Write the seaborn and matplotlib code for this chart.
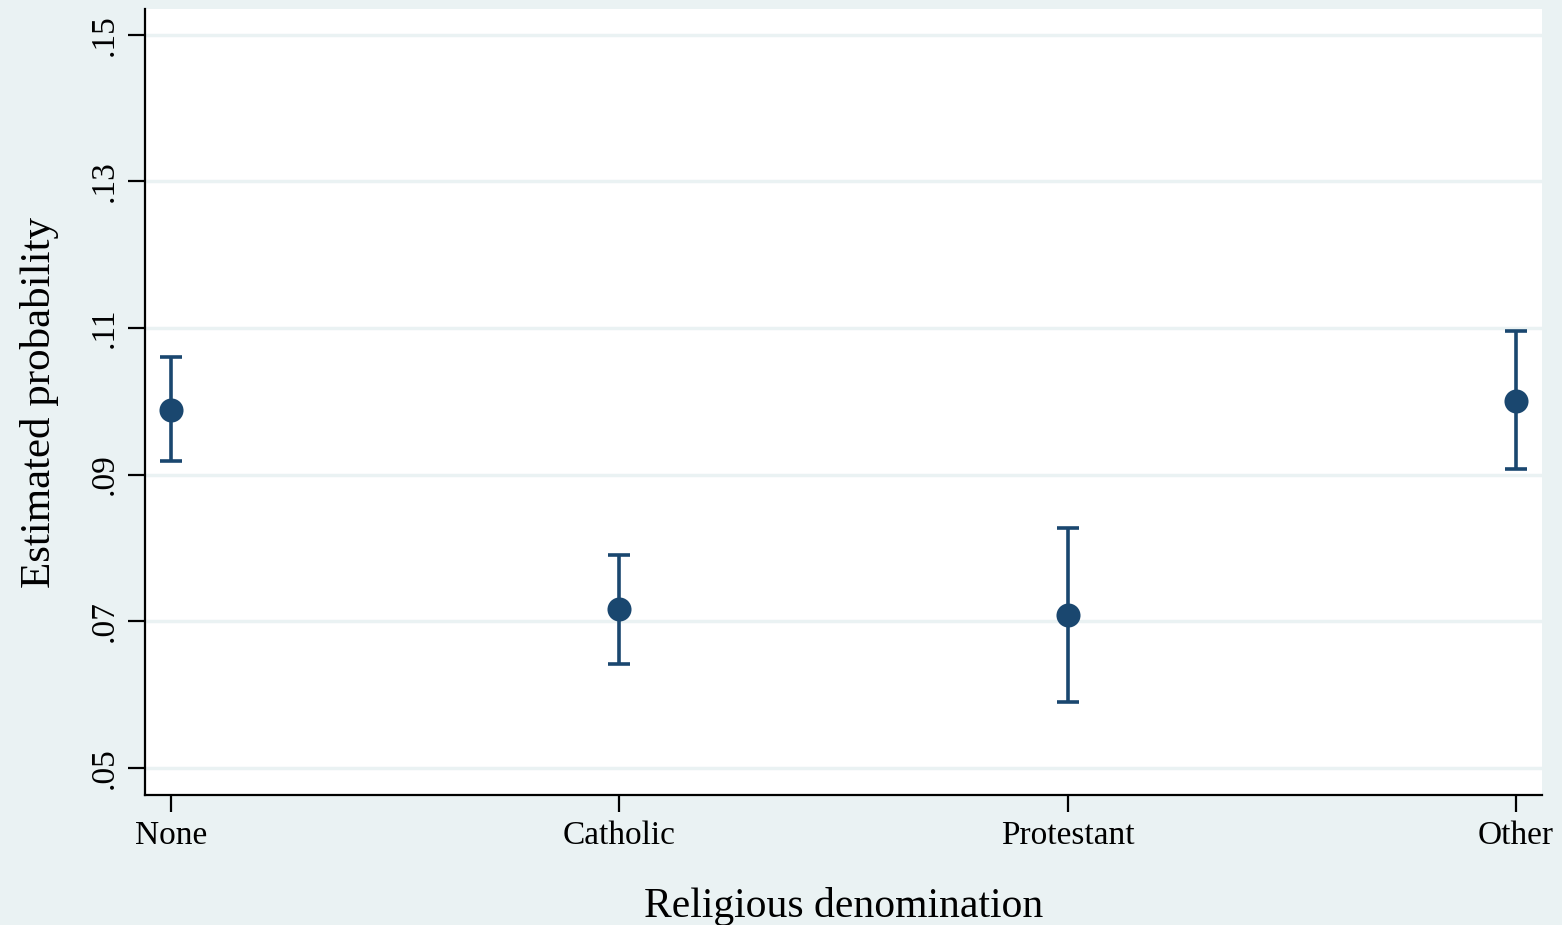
import pandas as pd
import matplotlib
matplotlib.use("Agg")
import matplotlib.pyplot as plt
import seaborn as sns

categories = ["None", "Catholic", "Protestant", "Other"]
estimate = [0.0988, 0.0716, 0.0709, 0.1001]
ci_low = [0.0919, 0.0641, 0.0590, 0.0908]
ci_high = [0.1061, 0.0791, 0.0827, 0.1096]
y_ticks = [0.05, 0.07, 0.09, 0.11, 0.13, 0.15]
y_tick_labels = [".05", ".07", ".09", ".11", ".13", ".15"]

df = pd.DataFrame({"religion": categories, "est": estimate,
                   "lo": ci_low, "hi": ci_high})

bg = "#EAF2F3"
navy = "#1A476F"

sns.set_style("white")
plt.rcParams["font.family"] = ["Liberation Serif", "DejaVu Serif"]
plt.rcParams["text.color"] = "black"
plt.rcParams["axes.labelcolor"] = "black"
plt.rcParams["xtick.color"] = "black"
plt.rcParams["ytick.color"] = "black"

fig = plt.figure(figsize=(15.62, 9.25), dpi=100, facecolor=bg)
ax = fig.add_axes([145 / 1562, 130 / 925, 1397 / 1562, 786 / 925])
ax.set_facecolor("white")

ax.errorbar(df["religion"], df["est"],
            yerr=[df["est"] - df["lo"], df["hi"] - df["est"]],
            fmt="none", ecolor=navy, elinewidth=2.6, capsize=8, capthick=2.6, zorder=3)
sns.scatterplot(data=df, x="religion", y="est", color=navy, s=300,
                edgecolor=navy, linewidth=0, zorder=4, ax=ax)

ax.set_xlim(-0.058, 3.058)
ax.set_ylim(0.0463, 0.1535)
ax.set_yticks(y_ticks)
ax.set_yticklabels(y_tick_labels, rotation=90, va="center")
ax.yaxis.grid(True, color=bg, linewidth=2.5)
ax.set_axisbelow(True)

for side in ["top", "right"]:
    ax.spines[side].set_visible(False)
for side in ["left", "bottom"]:
    ax.spines[side].set_color("black")
    ax.spines[side].set_linewidth(1.6)

ax.tick_params(axis="both", direction="out", length=12, width=1.6,
               color="black", labelcolor="black", labelsize=24,
               left=True, bottom=True, pad=6)
ax.set_xlabel("Religious denomination", fontsize=30, labelpad=26, color="black")
ax.set_ylabel("Estimated probability", fontsize=31, labelpad=22, color="black")

fig.savefig("out.png", dpi=100, facecolor=bg)
